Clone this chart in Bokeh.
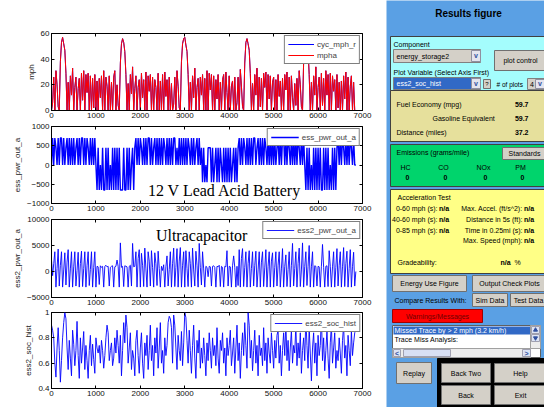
from bokeh.plotting import figure
from bokeh.models import Range1d, FixedTicker, LinearAxis, Label
from bokeh.layouts import row, column
from bokeh.embed import file_html
from bokeh.resources import INLINE
from bokeh.core.properties import value

# ---------------- data ----------------
x_ticks = [0, 1000, 2000, 3000, 4000, 5000, 6000, 7000]
mph_ticks = [0, 20, 40, 60]
batt_ticks = [-1000, -500, 0, 500, 1000]
uc_ticks = [-5000, 0, 5000, 10000]
soc_ticks = [0.4, 0.6, 0.8, 1.0]
dt = 25  # sample spacing (s)

mpha = [
    0, 6, 26, 0, 31, 20, 3, 0, 38, 53, 57, 52, 47, 29, 0, 22, 0, 27, 12, 33,
    0, 18, 26, 0, 17, 25, 0, 29, 8, 31, 0, 28, 14, 29, 0, 27, 0, 25, 2, 28,
    0, 23, 0, 25, 10, 27, 0, 31, 0, 26, 19, 0, 27, 0, 22, 0, 26, 31, 0, 20,
    4, 0, 37, 52, 56, 53, 46, 28, 0, 21, 0, 28, 13, 34, 0, 17, 27, 0, 18, 24,
    0, 29, 10, 24, 0, 30, 0, 27, 15, 28, 0, 26, 0, 24, 18, 0, 29, 0, 23, 0,
    28, 0, 30, 11, 24, 0, 26, 0, 21, 0, 5, 26, 0, 31, 19, 2, 0, 38, 52, 56,
    57, 51, 46, 28, 0, 22, 0, 27, 10, 33, 0, 18, 25, 0, 26, 12, 28, 0, 25, 0,
    31, 0, 29, 16, 28, 0, 27, 0, 24, 9, 28, 0, 22, 0, 24, 28, 0, 30, 14, 0,
    27, 0, 19, 23, 0, 26, 0, 6, 26, 0, 32, 19, 3, 0, 37, 53, 56, 52, 47, 29,
    0, 21, 0, 28, 12, 33, 0, 26, 3, 25, 0, 29, 18, 30, 0, 28, 9, 27, 0, 22,
    26, 0, 24, 0, 28, 11, 23, 0, 25, 0, 28, 16, 30, 0, 26, 0, 27, 10, 0, 21,
    4, 25, 0, 31, 20, 3, 0, 38, 52, 57, 53, 47, 28, 0, 22, 0, 27, 12, 34, 0,
    18, 26, 0, 29, 4, 25, 0, 31, 12, 28, 0, 29, 0, 27, 15, 24, 0, 28, 2, 22,
    0, 23, 0, 27, 9, 30, 0, 26, 0, 19, 27, 0, 22, 0, 0,
]
cyc_mph_r = list(mpha)

ess_pwr_out_a = [
    0, 700, 0, 700, 450, 0, 700, 0, 700, 700, 0, 700, 0, 450, 700, 0, 700, 0, 700, 0,
    700, 0, 450, 700, 0, 700, 0, 700, 700, 0, 700, 0, 700, 450, 0, 700, 0, 700, 0, 700,
    0, -650, 450, -650, 0, -650, 450, -650, -650, 450, -650, 450, -650, 0, -650, 450, -650, 450, -650, 450,
    -650, 450, -650, -650, -650, 450, -650, -650, 450, -650, 450, -650, 0, 450, -650, 450, 700, 0, 700, 0,
    700, 450, 0, 700, 0, 700, 0, 700, 700, 0, 700, 0, 450, 700, 0, 700, 0, 700, 0, 700,
    0, 700, 450, 0, 700, 0, 700, 0, 700, 0, 700, 700, 0, 450, 0, 700, 0, 700, 0, 700,
    0, 700, 0, 700, 450, 0, 700, 0, 700, 0, 450, 700, 0, 700, 0, 450, -450, 450, -450, 0,
    -450, 450, 450, 450, -450, 450, -450, 0, 450, -450, 450, -450, 450, 0, -450, 450, -450, 450, -450, 450,
    -450, 450, -450, 0, 450, -450, 450, -450, 450, 700, 0, 700, 0, 700, 450, 0, 700, 0, 700, 0,
    700, 0, 700, 700, 0, 450, 700, 0, 700, 0, 700, 0, 700, 450, 0, 700, 0, 700, 0, 700,
    0, 700, 0, 450, 700, 0, 700, 0, 700, 700, 0, 700, 0, 700, 450, 0, 700, 0, 700, 0,
    700, 0, 700, 450, 0, 700, 0, 700, 0, -650, 450, -650, 450, -650, 0, -650, 450, -650, 450, -650,
    450, -650, 450, -650, -650, 450, -650, 450, -650, 450, -650, 0, -650, 450, -650, 450, -650, 450, 700, 0,
    700, 0, 700, 450, 0, 700, 0, 700, 0, 700, 450, 0, 700, 0, 0,
]

ess2_pwr_out_a = [
    2200, -800, 1500, 3800, -3000, 600, 4300, -2800, 1200, 3800, -3000, 300, 3600, -2600, 1800, 4200, -3000, 500, 3800, -3000,
    900, 3800, -2800, 200, 3700, -3000, 1500, 3900, -2900, 600, 3800, -3000, 1100, 3800, -2700, 400, 3800, -3000, 800, 3800,
    -3000, 1000, 900, -2500, 1100, 800, 1000, -3000, 1000, 1200, 900, 1000, -2800, 800, 1000, 1100, -3000, 900, 1000, 2200,
    1000, -3000, 5500, 800, 1000, -2900, 1100, 1000, 900, -3000, 1000, 1200, -2800, 5400, 900, 1000, 3800, -3000, 2500, 4200,
    -3000, 3500, 1200, -2900, 4500, 500, -3000, 3800, 2000, -2800, 4000, 800, -3000, 3600, 1500, -2700, 3900, 600, -3000, 1000,
    200, 1300, -3000, 900, 3000, -2800, 400, 3800, -3000, 1500, 4500, -2900, 800, 4400, -3000, 2000, 4600, -3000, 1200, 3800,
    -3000, 4000, 600, -2900, 3800, 1500, -3000, 4500, 300, -2800, 3900, 1200, -3000, 5400, 800, -2600, 3800, 500, -3000, 1000,
    800, -1000, 1000, 900, -2800, 1000, 1100, 800, -3000, 1000, 900, 1200, -2900, 1000, 800, -3000, 1000, 900, 4000, -2800,
    1000, 900, -3000, 1100, 3000, 800, -3000, 1000, -2700, 4200, -3000, 2500, 4400, -2900, 800, 3800, -3000, 1500, 4000, -3000,
    600, 3800, -2800, 1200, 3900, -3000, 300, 3800, -3000, 1800, 3800, -2900, 700, 4200, -3000, 1000, 3800, -3000, 2000, 3600,
    -3000, 800, 3800, -2800, 1200, 3800, -3000, 500, 4400, -3000, 1000, 3200, -2900, 400, 3800, -3000, 1200, 5400, -2800, 600,
    3800, -3000, 1500, 4500, -2900, 300, 5500, -3000, 1000, 3800, -2700, 1000, 5000, -3000, 900, 3800, -3000, 1100, 1000, -2800,
    1000, 900, -3000, 1000, 5200, 800, -3000, 1000, 1100, -2900, 4000, 1000, -3000, 900, 3800, -3000, 800, 4400, -2800, 1200,
    3800, -3000, 900, 4600, -2900, 1500, 3900, -3000, 600, 4200, -3000, 1000, 3700, -2800, 0,
]

ess2_soc_hist = [
    0.90, 0.86, 0.80, 0.60, 0.49, 0.72, 0.88, 0.70, 0.45, 0.62, 0.80, 0.92, 1.00, 0.95, 0.72, 0.55, 0.78, 0.64, 0.50, 0.86,
    0.75, 0.58, 0.70, 0.93, 0.66, 0.48, 0.80, 0.60, 0.72, 0.85, 0.55, 0.74, 0.62, 0.48, 0.70, 0.82, 0.58, 0.75, 0.63, 0.52,
    0.80, 0.72, 0.68, 0.74, 0.60, 0.78, 0.70, 0.56, 0.66, 0.80, 0.90, 0.84, 0.62, 0.70, 0.76, 0.58, 0.64, 0.80, 0.68, 0.86,
    0.74, 0.60, 0.82, 0.50, 0.70, 0.92, 0.76, 0.98, 0.88, 0.60, 0.72, 0.84, 0.55, 0.70, 0.64, 0.50, 0.78, 0.86, 0.66, 0.52,
    0.72, 0.84, 0.60, 0.48, 0.76, 0.66, 0.82, 0.55, 0.70, 0.90, 0.62, 0.74, 0.50, 0.80, 0.68, 0.88, 0.56, 0.72, 0.92, 0.60,
    0.70, 0.52, 0.80, 0.66, 0.74, 0.92, 0.97, 0.95, 0.88, 0.60, 0.98, 0.90, 0.72, 0.55, 0.82, 0.70, 0.62, 0.85, 0.58, 0.76,
    1.00, 0.96, 0.78, 0.60, 0.86, 0.70, 0.52, 0.74, 0.90, 0.64, 0.48, 0.78, 0.68, 0.86, 0.56, 0.72, 0.60, 0.80, 0.66, 0.50,
    0.76, 0.62, 0.84, 0.70, 0.56, 0.80, 0.66, 0.74, 0.58, 0.88, 0.64, 0.52, 0.78, 0.70, 0.84, 0.60, 0.72, 0.50, 0.80, 0.66,
    0.74, 0.86, 0.58, 0.68, 0.80, 0.52, 0.72, 0.90, 0.62, 0.76, 0.48, 0.70, 0.84, 0.66, 0.92, 0.74, 0.56, 1.00, 0.90, 0.64,
    0.78, 0.54, 0.70, 0.86, 0.60, 0.74, 0.50, 0.82, 0.66, 0.72, 0.58, 0.88, 0.62, 0.76, 0.52, 0.80, 0.68, 0.60, 0.84, 0.70,
    0.56, 0.78, 0.64, 0.82, 0.86, 0.60, 0.74, 0.50, 0.70, 0.84, 0.66, 0.92, 0.62, 0.78, 0.54, 0.72, 0.86, 0.60, 0.74, 0.68,
    0.90, 0.58, 0.76, 0.64, 0.84, 0.52, 0.70, 0.80, 0.62, 0.96, 0.74, 0.56, 0.88, 0.68, 0.46, 0.72, 0.84, 0.60, 0.76, 0.50,
    0.82, 0.66, 0.74, 0.98, 0.62, 0.80, 0.54, 0.70, 0.86, 0.64, 0.48, 0.76, 0.90, 0.60, 0.72, 0.84, 0.56, 0.70, 0.62, 0.80,
    0.68, 0.52, 0.78, 0.90, 0.64, 0.74, 0.50, 0.82, 0.70, 0.58, 0.86, 0.66, 0.76, 0.84, 0.86,
]


def times(series):
    return [dt * i for i in range(len(series))]


FONT = "Liberation Sans"


def make_plot(height, top, yr, yticks, ylabel, overrides=None):
    p = figure(width=386, height=height, x_range=Range1d(0, 7000), y_range=Range1d(*yr),
               output_backend="svg", toolbar_location=None,
               min_border_left=51, min_border_right=24, min_border_top=top, min_border_bottom=12)
    p.grid.visible = False
    p.outline_line_color = "black"
    p.outline_line_width = 1
    p.background_fill_color = "white"
    p.border_fill_color = "white"
    p.xaxis.ticker = FixedTicker(ticks=x_ticks)
    p.yaxis.ticker = FixedTicker(ticks=yticks)
    if overrides:
        p.yaxis.major_label_overrides = overrides
    for ax in (p.xaxis, p.yaxis):
        ax.major_tick_in = 3
        ax.major_tick_out = 0
        ax.minor_tick_line_color = None
        ax.axis_line_color = "black"
        ax.major_tick_line_color = "black"
        ax.major_label_text_font = FONT
        ax.major_label_text_font_size = "8px"
        ax.major_label_text_color = "#111111"
        ax.major_label_standoff = 2
    p.yaxis.axis_label = ylabel
    p.yaxis.axis_label_text_font = FONT
    p.yaxis.axis_label_text_font_size = "8px"
    p.yaxis.axis_label_text_font_style = "normal"
    p.yaxis.axis_label_text_color = "#222222"
    p.yaxis.axis_label_standoff = 2
    # box ticks on right and top (no labels drawn)
    r = LinearAxis(ticker=FixedTicker(ticks=yticks), major_label_text_font_size="1px",
                   major_label_text_color=None,
                   major_label_standoff=0, major_tick_in=3, major_tick_out=0,
                   minor_tick_line_color=None, axis_line_color=None)
    p.add_layout(r, "right")
    t = LinearAxis(ticker=FixedTicker(ticks=x_ticks), major_label_text_font_size="1px",
                   major_label_text_color=None,
                   major_label_standoff=0, major_tick_in=3, major_tick_out=0,
                   minor_tick_line_color=None, axis_line_color=None)
    p.add_layout(t, "above")
    return p


def style_legend(p, gw):
    lg = p.legend[0]
    lg.location = "top_right"
    lg.margin = 2
    lg.padding = 3
    lg.spacing = 1
    lg.label_text_font = FONT
    lg.label_text_font_size = "8px"
    lg.label_height = 10
    lg.glyph_height = 10
    lg.glyph_width = gw
    lg.label_standoff = 3
    lg.border_line_color = "black"
    lg.border_line_width = 1
    lg.background_fill_alpha = 1


p1 = make_plot(122, 33, (0, 60), mph_ticks, "mph")
p1.line(times(cyc_mph_r), cyc_mph_r, color="#0000ff", line_width=1, legend_label="cyc_mph_r")
p1.line(times(mpha), mpha, color="#ff0000", line_width=1, legend_label="mpha")
style_legend(p1, 26)

p2 = make_plot(93, 4, (-1000, 1000), batt_ticks, "ess_pwr_out_a")
p2.line(times(ess_pwr_out_a), ess_pwr_out_a, color="#0000ff", line_width=1.4, legend_label="ess_pwr_out_a")
style_legend(p2, 28)
p2.add_layout(Label(x=3900, y=-660, text="12 V Lead Acid Battery", text_font="Liberation Serif",
                    text_font_size="16px", text_align="center", text_baseline="middle",
                    text_color="black"))

p3 = make_plot(94, 4, (-5000, 10000), uc_ticks, "ess2_pwr_out_a")
p3.line(times(ess2_pwr_out_a), ess2_pwr_out_a, color="#0000ff", line_width=0.9, legend_label="ess2_pwr_out_a")
style_legend(p3, 28)
p3.add_layout(Label(x=3380, y=6900, text="Ultracapacitor", text_font="Liberation Serif",
                    text_font_size="16px", text_align="center", text_baseline="middle",
                    text_color="black"))

p4 = make_plot(91, 3, (0.4, 1.0), soc_ticks, "ess2_soc_hist",
               overrides={0.4: "0.4", 0.6: "0.6", 0.8: "0.8", 1.0: "1"})
p4.line(times(ess2_soc_hist), ess2_soc_hist, color="#0000ff", line_width=0.9, legend_label="ess2_soc_hist")
style_legend(p4, 28)

# ---------------- right GUI panel ----------------
PANEL_BG = "#5aa0e4"
CYAN = "#a4fdfd"
KHAKI = "#e6e09c"
GREEN = "#00d46c"
YELLOW = "#ffff86"
BTN = "#d4d0c8"
SEL = "#3169c6"

g = figure(width=158, height=407, x_range=Range1d(386, 544), y_range=Range1d(407, 0),
           output_backend="svg", toolbar_location=None,
           min_border_left=0, min_border_right=0, min_border_top=0, min_border_bottom=0)
g.axis.visible = False
g.grid.visible = False
g.outline_line_color = None
g.background_fill_color = PANEL_BG
g.border_fill_color = PANEL_BG


def box(l, r, t, b, fill, line="#404040", lw=1):
    g.quad(left=[l], right=[r], top=[t], bottom=[b], fill_color=fill, line_color=line, line_width=lw)


def txt(x, y, s, align="left", bold=False, size="7px", color="black", font=FONT):
    g.text(x=[x], y=[y], text=[s], text_align=align, text_baseline="middle",
           text_font=value(font), text_font_size=size, text_color=color,
           text_font_style="bold" if bold else "normal")


def btn(l, r, t, b, label, size="7px"):
    box(l, r, t, b, BTN, line="#707070")
    txt((l + r) / 2, (t + b) / 2, label, align="center", size=size)


txt(468, 13, "Results figure", align="center", bold=True, size="10px")

# component box
box(390, 546, 36, 90, CYAN)
txt(393, 44, "Component")
box(393, 480, 49, 62, BTN, line="#808080")
txt(396, 55.5, "energy_storage2", size="7px")
box(471, 480, 50, 61, "#e4e4ee", line="#9090a0")
txt(475.5, 55, "v", align="center", size="7px", color="#3050a0", bold=True)
btn(494, 546, 50, 70, "plot control")
txt(393, 72, "Plot Variable (Select Axis First)")
box(393, 480, 77, 89, SEL, line="#808080")
txt(396, 83, "ess2_soc_hist", size="7px", color="white")
box(471, 480, 78, 88, "#e4e4ee", line="#9090a0")
txt(475.5, 82.5, "v", align="center", size="7px", color="#3050a0", bold=True)
box(483, 490, 79, 88, BTN, line="#707070")
txt(486.5, 83.5, "?", align="center", size="6px")
txt(496, 83.5, "# of plots", size="6.5px")
box(527, 546, 78, 89, BTN, line="#808080")
txt(529.5, 83.5, "4", size="7px")
box(535, 544, 79, 88, "#e4e4ee", line="#9090a0")
txt(539.5, 83, "v", align="center", size="7px", color="#3050a0", bold=True)

# fuel economy
box(390, 546, 90, 141, KHAKI)
txt(396, 104, "Fuel Economy (mpg)")
txt(528, 104, "59.7", align="right", bold=True)
txt(432, 118, "Gasoline Equivalent")
txt(528, 118, "59.7", align="right", bold=True)
txt(396, 132, "Distance (miles)")
txt(528, 132, "37.2", align="right", bold=True)

# emissions
box(390, 546, 144, 186, GREEN)
txt(396, 152, "Emissions (grams/mile)")
btn(502, 546, 147, 159, "Standards")
for xx, lab in ((405, "HC"), (443, "CO"), (483, "NOx"), (520, "PM")):
    txt(xx, 166.5, lab, align="center")
    txt(xx + 2, 177, "0", align="center", bold=True)

# acceleration test
box(390, 546, 189, 273, YELLOW)
txt(397, 196.5, "Acceleration Test")
for yy, lab in ((208, "0-60 mph (s):"), (218.5, "40-60 mph (s):"), (229.5, "0-85 mph (s):")):
    txt(437, yy, lab, align="right")
    txt(438.5, yy, "n/a", bold=True)
for yy, lab in ((208, "Max. Accel. (ft/s^2):"), (218.5, "Distance in 5s (ft):"),
                (229.5, "Time in 0.25mi (s):"), (240, "Max. Speed (mph):")):
    txt(522, yy, lab, align="right")
    txt(523.5, yy, "n/a", bold=True)
txt(397, 262, "Gradeability:")
txt(500, 262, "n/a", bold=True)
txt(514, 262, "%")

# buttons and messages
btn(392, 466, 275, 291, "Energy Use Figure")
btn(472, 546, 275, 291, "Output Check Plots")
txt(430, 299.5, "Compare Results With:", align="center", size="7px")
btn(472, 507, 293, 306, "Sim Data")
btn(510, 546, 293, 306, "Test Data")
box(392, 482, 309, 322, "#ff0000", line="#a00000")
txt(437, 315.5, "Warnings/Messages", align="center", size="7px", color="#700000")

box(392, 540, 325, 357, "white", line="#606060")
box(393, 530, 326, 334, SEL, line=None)
txt(394, 330, "Missed Trace by > 2 mph (3.2 km/h)", size="7px", color="white")
txt(394, 339, "Trace Miss Analysis:", size="7px")
box(530, 540, 325, 348, "#ececec", line="#a0a0a0")
box(531, 539, 326, 333, "#dde4f4", line="#a0a0b0")
box(531, 539, 334, 341, "#dde4f4", line="#a0a0b0")
g.scatter(x=[535], y=[329.5], marker="triangle", size=4, color="#3050a0")
g.scatter(x=[535], y=[337.5], marker="inverted_triangle", size=4, color="#3050a0")
box(392, 530, 348, 357, "#ececec", line="#a0a0a0")
box(393, 400, 349, 356, "#dde4f4", line="#a0a0b0")
box(522, 530, 349, 356, "#dde4f4", line="#a0a0b0")
box(403, 450, 349, 356, "#d8e0f4", line="#a0a0b0")
txt(396.5, 352.5, "<", align="center", size="7px", color="#3050a0", bold=True)
txt(526, 352.5, ">", align="center", size="7px", color="#3050a0", bold=True)

btn(396, 431, 362, 383, "Replay")
box(437, 546, 358, 408, "black", line="black")
btn(441, 490, 363, 382, "Back Two")
btn(494, 546, 363, 382, "Help")
btn(441, 490, 385, 404, "Back")
btn(494, 546, 385, 404, "Exit")

layout = row(column(p1, p2, p3, p4, spacing=0), g, spacing=0)

open("out.html", "w").write(file_html(layout, INLINE))
